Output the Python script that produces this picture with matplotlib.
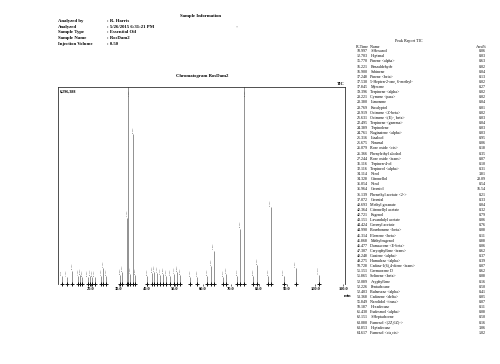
import matplotlib
matplotlib.use("Agg")
import matplotlib.pyplot as plt

plt.rcParams['font.family'] = ['Liberation Serif', 'DejaVu Serif']

# ---------------- data ----------------
info_labels = ["Analyzed by", "Analyzed", "Sample Type", "Sample Name", "Injection Volume"]
info_values = [": R. Harris", ": 5/26/2015 6:31:21 PM", ": Essential Oil", ": RosDam2", ": 0.50"]

# chromatogram peaks (position on the chart axis, height as fraction of full scale 6,296,388)
peak_x = [9.75, 11.5, 13.5, 15.5, 16.2, 16.9, 19.0, 19.75, 20.5, 21.5, 23.7, 24.5, 25.5,
          30.6, 31.2, 33.1, 33.4, 34.2, 35.2, 35.8, 40.1, 41.9, 42.6, 43.7, 44.75, 45.8,
          46.9, 48.3, 49.75, 50.8, 51.9, 55.5, 58.0, 61.5, 63.0, 63.8, 67.25, 68.3, 72.25,
          73.3, 74.5, 78.0, 79.3, 83.3, 84.1, 88.7, 93.0, 101.2]
peak_h = [0.04, 0.035, 0.066, 0.04, 0.045, 0.035, 0.035, 0.04, 0.035, 0.035, 0.04, 0.08, 0.04,
          0.045, 0.06, 0.335, 1.30, 0.05, 0.76, 0.045, 0.04, 0.055, 0.06, 0.055, 0.045, 0.05,
          0.04, 0.04, 0.05, 0.06, 0.045, 0.035, 0.035, 0.04, 0.09, 0.17, 0.035, 0.05, 0.04,
          0.28, 1.30, 0.04, 0.095, 0.04, 0.39, 0.04, 0.08, 0.045]
full_scale = 6296388

x_ticks = [20, 30, 40, 50, 60, 70, 80, 90, 100, 110]
x_tick_labels = ["20.0", "30.0", "40.0", "50.0", "60.0", "70.0", "80.0", "90.0", "100.0", "110.0"]

rt = ["10.997", "12.703", "15.770", "16.221", "16.900", "17.248", "17.530", "17.845", "19.396",
      "20.221", "20.380", "20.769", "20.919", "21.631", "22.495", "24.389", "24.761", "25.316",
      "25.675", "26.079", "26.366", "27.244", "31.116", "32.116", "34.114", "34.328", "35.054",
      "35.964", "36.139", "37.072", "40.693", "42.364", "42.721", "43.151", "44.424", "44.990",
      "45.314", "45.868", "46.477", "47.307", "48.248", "49.275", "50.728", "51.151", "51.865",
      "52.089", "52.226", "52.403", "53.368", "55.849", "58.187", "61.430", "62.151", "63.080",
      "63.853", "64.617"]
names = ["1-Hexanol", "Heptanal", "Pinene <alpha>", "Benzaldehyde", "Sabinene", "Pinene <beta>",
         "5-Hepten-2-one, 6-methyl-", "Myrcene", "Terpinene <alpha>", "Cymene <para>", "Limonene",
         "Eucalyptol", "Ocimene <Z-beta>", "Ocimene <(E)-, beta>", "Terpinene <gamma>",
         "Terpinolene", "Naginatene <alpha>", "Linalool", "Nonanal", "Rose oxide <cis>",
         "Phenylethyl alcohol", "Rose oxide <trans>", "Terpinen-4-ol", "Terpineol <alpha>",
         "Nerol", "Citronellol", "Neral", "Geraniol", "Phenethyl acetate <2->", "Geranial",
         "Methyl geranate", "Citronellyl acetate", "Eugenol", "Lavandulyl acetate",
         "Geranyl acetate", "Bourbonene <beta>", "Elemene <beta>", "Methyleugenol",
         "Damascone <E-beta>", "Caryophyllene <trans>", "Guaiene <alpha>", "Humulene <alpha>",
         "Cadina-1(6),4-diene <trans>", "Germacrene D", "Selinene <beta>", "Acyphyllene",
         "Pentadecane", "Bulnesene <alpha>", "Cadinene <delta>", "Nerolidol <trans>",
         "Hexadecane", "Eudesmol <alpha>", "1-Heptadecene", "Farnesol <(2Z,6Z)->",
         "Heptadecane", "Farnesol <cis,cis>"]
area = ["0.06", "0.03", "0.63", "0.02", "0.04", "0.13", "0.02", "0.27", "0.02", "0.02", "0.04",
        "0.01", "0.02", "0.03", "0.04", "0.03", "0.03", "0.95", "0.06", "0.18", "0.35", "0.07",
        "0.10", "0.31", "3.81", "20.09", "0.54", "16.54", "0.21", "0.33", "0.04", "0.32", "0.79",
        "0.06", "0.76", "0.08", "0.11", "0.88", "0.06", "0.62", "0.37", "0.39", "0.07", "0.62",
        "0.08", "0.16", "0.50", "0.41", "0.05", "0.07", "0.11", "0.08", "0.50", "0.16", "3.06",
        "1.02"]

# ---------------- figure ----------------
W, H = 500, 364
fig = plt.figure(figsize=(5, 3.64), dpi=100)
fig.patch.set_facecolor("white")


def ftext(x, y, s, **kw):
    fig.text(x / W, 1 - y / H, s, va="center", **kw)


# sample information header
ftext(180, 16, "Sample Information", fontsize=3.4, fontweight="bold")
rows_y = [21, 26.6, 32.3, 38.1, 43.9]
for lab, val, y in zip(info_labels, info_values, rows_y):
    ftext(58, y, lab, fontsize=3.4, fontweight="bold")
    ftext(107, y, val, fontsize=3.4, fontweight="bold")
ftext(236, 27, "*", fontsize=3, color="#999999")

ftext(202, 76, "Chromatogram RosDam2", fontsize=3.4, fontweight="bold", ha="center")

# chromatogram axes
ax = fig.add_axes([58 / W, 1 - 284 / H, (345 - 58) / W, (284 - 87) / H])
ax.set_xlim(8.4, 110.6)
ax.set_ylim(0, full_scale)
heights = [h * full_scale for h in peak_h]
ax.vlines(peak_x, 0, heights, color="#555555", lw=0.45)
ax.axhline(0, color="#222222", lw=0.6, ls=(0, (3, 1)))
ax.plot(peak_x, [0] * len(peak_x), ls="none", marker="+", ms=3.0, mew=0.7, color="#111111",
        clip_on=False)
for x, h in zip(peak_x, peak_h):
    if h >= 1:
        ax.text(x + 0.4, full_scale * 0.985, f"{x:.3f}", rotation=90, fontsize=1.6,
                va="top", ha="left", color="#444444")
    else:
        ax.text(x, h * full_scale + full_scale * 0.008, f"{x:.3f}", rotation=90, fontsize=1.6,
                va="bottom", ha="center", color="#444444")
ax.set_xticks(x_ticks)
ax.set_xticklabels(x_tick_labels, fontsize=3.2, fontweight="bold")
ax.set_yticks([])
ax.tick_params(axis="x", length=1.5, width=0.4, pad=1)
for s in ax.spines.values():
    s.set_linewidth(0.6)
    s.set_color("#333333")
ax.spines["bottom"].set_visible(False)
ax.text(0.005, 0.985, "6,296,388", transform=ax.transAxes, fontsize=3.0, fontweight="bold",
        va="top", ha="left")
ax.text(1.0, 1.005, "TIC", transform=ax.transAxes, fontsize=3.2, fontweight="bold",
        va="bottom", ha="right")
ftext(348, 296, "min", fontsize=3.2, fontweight="bold", ha="center")

# peak report table
ftext(395, 41, "Peak Report TIC", fontsize=3.0)
ftext(356, 47, "R.Time  Name", fontsize=2.9)
ftext(487, 47, "Area%", fontsize=2.9, ha="right")
for i, (t, n, a) in enumerate(zip(rt, names, area)):
    y = 51.2 + i * 5.12
    ftext(357, y, t, fontsize=2.9)
    ftext(370.5, y, n, fontsize=2.9)
    ftext(486, y, a, fontsize=2.9, ha="right")

fig.savefig("out.png", dpi=100, facecolor="white")
